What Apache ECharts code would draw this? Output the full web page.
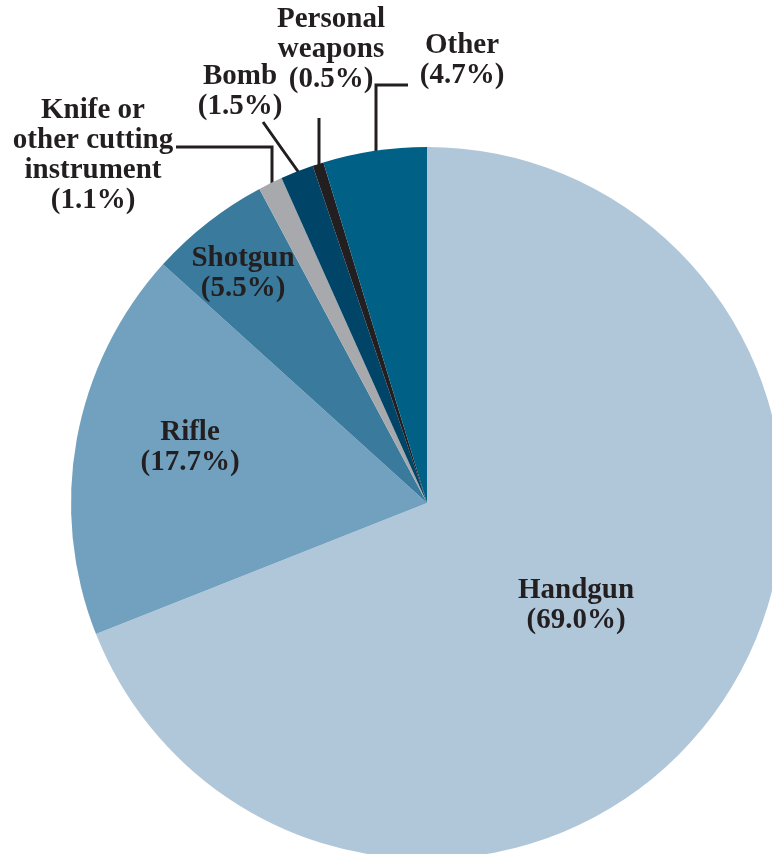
<!DOCTYPE html>
<html>
<head>
<meta charset="utf-8">
<script src="https://cdn.jsdelivr.net/npm/echarts@6/dist/echarts.min.js"></script>
<style>
  html, body { margin: 0; padding: 0; background: #fff; }
  #chart { width: 772px; height: 854px; }
</style>
</head>
<body>
<div id="chart"></div>
<script>
// data, clockwise from 12 o'clock
const categories = ['Handgun', 'Rifle', 'Shotgun', 'Knife or other cutting instrument', 'Bomb', 'Personal weapons', 'Other']
const shares = [69.0, 17.7, 5.5, 1.1, 1.5, 0.5, 4.7]
const labelLines = [
  ['Handgun'],
  ['Rifle'],
  ['Shotgun'],
  ['Knife or', 'other cutting', 'instrument'],
  ['Bomb'],
  ['Personal', 'weapons'],
  ['Other']
]

// styles
const colors = ['#b0c7da', '#72a1bf', '#3a7b9d', '#a7a9ac', '#004567', '#231f20', '#006086']
const textColor = '#231f20'

// label placement (center of text block) and leader lines
const labelPos = [
  [576, 606],
  [190, 448],
  [243, 274],
  [93, 156],
  [240, 92],
  [331, 50],
  [462, 61]
]
const leaders = [
  null,
  null,
  null,
  [[176, 147], [272, 147], [272, 196]],
  [[263, 122], [282, 149], [302, 177]],
  [[319, 118], [319, 140], [319, 166]],
  [[408, 85], [376, 85], [376, 183]]
]

const chart = echarts.init(document.getElementById('chart'))

const pieData = categories.map((name, i) => ({
  name: name,
  value: shares[i],
  itemStyle: { color: colors[i] },
  label: {
    formatter: labelLines[i].join('\n') + '\n(' + shares[i].toFixed(1) + '%)'
  },
  labelLine: { show: leaders[i] != null }
}))

chart.setOption({
  animation: false,
  series: [{
    type: 'pie',
    center: [427, 503],
    radius: 356,
    startAngle: 90,
    clockwise: true,
    avoidLabelOverlap: false,
    itemStyle: { borderWidth: 0 },
    label: {
      show: true,
      position: 'outside',
      color: textColor,
      fontFamily: 'Liberation Serif',
      fontWeight: 'bold',
      fontSize: 29,
      lineHeight: 30,
      align: 'center'
    },
    labelLine: {
      show: true,
      lineStyle: { color: textColor, width: 3 }
    },
    labelLayout: function (params) {
      const i = params.dataIndex
      const out = {
        x: labelPos[i][0],
        y: labelPos[i][1],
        align: 'center',
        verticalAlign: 'middle',
        hideOverlap: false,
        moveOverlap: null
      }
      if (leaders[i]) out.labelLinePoints = leaders[i]
      return out
    },
    data: pieData
  }]
})
</script>
</body>
</html>
